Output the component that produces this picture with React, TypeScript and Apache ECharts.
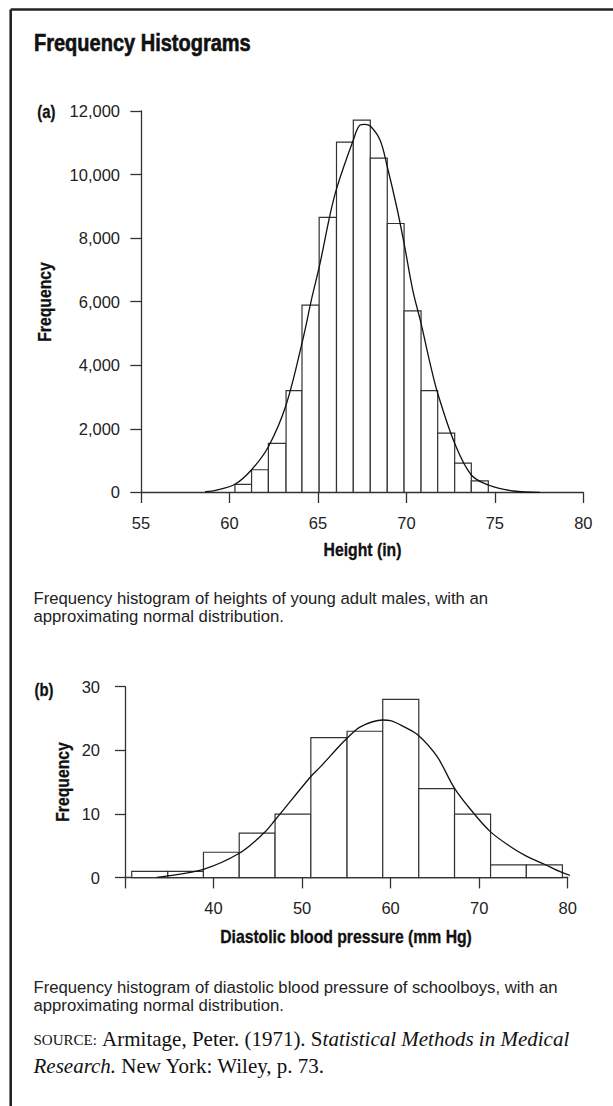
import React, { useEffect, useRef } from "react";
import * as echarts from "echarts";

// ---- Panel (a): heights of young adult males ----
const heightBinEdges = [60.31, 61.25, 62.2, 63.2, 64.1, 65.07, 66.05, 67.0, 67.96, 68.92, 69.87, 70.83, 71.77, 72.73, 73.67, 74.63];
const heightCounts = [250, 710, 1540, 3200, 5890, 8650, 11020, 11710, 10520, 8460, 5710, 3200, 1860, 920, 360];
const heightCurveX = [58.62, 59.28, 60.31, 61.25, 62.2, 63.2, 64.14, 64.65, 65.12, 65.68, 66.06, 67.0, 67.38, 67.66, 67.96, 68.51, 68.92, 69.45, 69.87, 70.36, 70.83, 71.34, 71.77, 72.73, 73.67, 74.63, 76.05, 77.55];
const heightCurveY = [20, 72, 252, 711, 1435, 2747, 4792, 6100, 7205, 8726, 9566, 11085, 11557, 11580, 11526, 11085, 10245, 8987, 7835, 6366, 5318, 4059, 3115, 1542, 544, 230, 41, 0];
const heightXTicks = [55, 60, 65, 70, 75, 80];
const heightYTicks = [0, 2000, 4000, 6000, 8000, 10000, 12000];

// ---- Panel (b): diastolic blood pressure of schoolboys ----
const bpBinEdges = [30.76, 34.83, 38.86, 42.9, 46.95, 50.99, 55.08, 59.11, 63.18, 67.22, 71.29, 75.33, 79.4];
const bpCounts = [1, 1, 4, 7, 10, 22, 23, 28, 14, 10, 2, 2];
const bpCurveX = [33.59, 34.83, 38.86, 42.9, 45.65, 46.95, 50.99, 52.06, 54.32, 55.08, 56.58, 59.11, 59.98, 61.48, 63.18, 65.26, 67.22, 69.4, 71.29, 73.55, 75.33, 77.32, 79.4, 81.1];
const bpCurveY = [0.06, 0.27, 1.31, 3.83, 6.97, 9.06, 15.9, 17.4, 20.84, 21.9, 23.7, 24.77, 24.66, 23.72, 22.3, 19.0, 14.04, 10.1, 7.2, 4.87, 3.4, 2.15, 0.79, 0];
const bpXTicks = [30, 40, 50, 60, 70, 80];
const bpYTicks = [0, 10, 20, 30];

const SANS = '"Liberation Sans", Arial, Helvetica, sans-serif';
const SERIF = '"Liberation Serif", "Times New Roman", serif';
const INK = "#222";

function binData(edges: number[], counts: number[]) {
  return counts.map((c, i) => [edges[i], edges[i + 1], c]);
}

function renderBar(params: any, api: any) {
  const lo = api.value(0);
  const hi = api.value(1);
  const v = api.value(2);
  const p0 = api.coord([lo, v]);
  const p1 = api.coord([hi, 0]);
  return {
    type: "rect",
    shape: { x: p0[0], y: p0[1], width: p1[0] - p0[0], height: p1[1] - p0[1] },
    style: { fill: "#fff", stroke: "#333", lineWidth: 1.2 },
  };
}

function txt(x: number, y: number, text: string, o: any = {}) {
  const align = o.align || "left";
  const va = o.va || "middle";
  return {
    type: "text",
    x,
    y,
    rotation: o.rotation || 0,
    scaleX: o.scaleX || 1,
    silent: true,
    style: {
      text,
      fill: o.fill || INK,
      stroke: o.stroke,
      lineWidth: o.lineWidth || 0,
      fontSize: o.fontSize || 16,
      fontWeight: o.fontWeight || "normal",
      fontStyle: o.fontStyle || "normal",
      fontFamily: o.fontFamily || SANS,
      align,
      textAlign: align,
      verticalAlign: va,
      textVerticalAlign: va,
      rich: o.rich,
    },
  };
}

const tickLabel = { color: INK, fontSize: 16.5, fontFamily: SANS };
const axisLineStyle = { color: "#333", width: 1.3 };
const serifRich = {
  sc: { fontFamily: SERIF, fontSize: 15, fill: "#111", padding: [2, 0, 0, 0] },
  r: { fontFamily: SERIF, fontSize: 21, fill: "#111" },
  i: { fontFamily: SERIF, fontSize: 21, fontStyle: "italic", fill: "#111" },
};

export default function App() {
  const ref = useRef<HTMLDivElement>(null);

  useEffect(() => {
    if (!ref.current) return;
    const chart = echarts.init(ref.current, undefined, { renderer: "svg" });

    const option: any = {
      animation: false,
      backgroundColor: "#fff",
      grid: [
        { left: 141, top: 111, width: 442.3, height: 381.3 },
        { left: 125, top: 686.7, width: 442.7, height: 191 },
      ],
      xAxis: [
        {
          type: "value",
          gridIndex: 0,
          min: heightXTicks[0],
          max: heightXTicks[heightXTicks.length - 1],
          interval: 5,
          axisLine: { show: true, onZero: false, lineStyle: axisLineStyle },
          axisTick: { show: true, length: 10.7, lineStyle: axisLineStyle },
          splitLine: { show: false },
          axisLabel: { ...tickLabel, margin: 22 },
        },
        {
          type: "value",
          gridIndex: 1,
          min: bpXTicks[0],
          max: bpXTicks[bpXTicks.length - 1],
          interval: 10,
          axisLine: { show: true, onZero: false, lineStyle: axisLineStyle },
          axisTick: { show: true, length: 10.7, lineStyle: axisLineStyle },
          splitLine: { show: false },
          axisLabel: {
            ...tickLabel,
            margin: 22,
            formatter: (v: number) => (v === bpXTicks[0] ? "" : String(v)),
          },
        },
      ],
      yAxis: [
        {
          type: "value",
          gridIndex: 0,
          min: heightYTicks[0],
          max: heightYTicks[heightYTicks.length - 1],
          interval: 2000,
          axisLine: { show: true, lineStyle: axisLineStyle },
          axisTick: { show: true, length: 10.7, lineStyle: axisLineStyle },
          splitLine: { show: false },
          axisLabel: {
            ...tickLabel,
            margin: 21,
            formatter: (v: number) => v.toLocaleString("en-US"),
          },
        },
        {
          type: "value",
          gridIndex: 1,
          min: bpYTicks[0],
          max: bpYTicks[bpYTicks.length - 1],
          interval: 10,
          axisLine: { show: true, lineStyle: axisLineStyle },
          axisTick: { show: true, length: 10, lineStyle: axisLineStyle },
          splitLine: { show: false },
          axisLabel: { ...tickLabel, margin: 25 },
        },
      ],
      series: [
        {
          type: "custom",
          xAxisIndex: 0,
          yAxisIndex: 0,
          renderItem: renderBar,
          encode: { x: [0, 1], y: 2 },
          data: binData(heightBinEdges, heightCounts),
          z: 2,
        },
        {
          type: "line",
          xAxisIndex: 0,
          yAxisIndex: 0,
          data: heightCurveX.map((x, i) => [x, heightCurveY[i]]),
          smooth: 0.35,
          showSymbol: false,
          symbol: "none",
          lineStyle: { color: "#111", width: 1.3 },
          clip: false,
          z: 3,
        },
        {
          type: "custom",
          xAxisIndex: 1,
          yAxisIndex: 1,
          renderItem: renderBar,
          encode: { x: [0, 1], y: 2 },
          data: binData(bpBinEdges, bpCounts),
          z: 2,
        },
        {
          type: "line",
          xAxisIndex: 1,
          yAxisIndex: 1,
          data: bpCurveX.map((x, i) => [x, bpCurveY[i]]),
          smooth: 0.35,
          showSymbol: false,
          symbol: "none",
          lineStyle: { color: "#111", width: 1.3 },
          clip: false,
          z: 3,
        },
      ],
      graphic: [
        // frame
        { type: "line", silent: true, shape: { x1: 10.7, y1: 9.5, x2: 613, y2: 9.5 }, style: { stroke: "#222", lineWidth: 2.6 } },
        { type: "line", silent: true, shape: { x1: 10.7, y1: 9.5, x2: 10.7, y2: 1106 }, style: { stroke: "#222", lineWidth: 2.6 } },
        // title
        txt(34, 42.5, "Frequency Histograms", { fontSize: 23, fontWeight: "bold", scaleX: 0.87, fill: "#111", stroke: "#111", lineWidth: 0.6 }),
        // panel (a)
        txt(37.3, 111.5, "(a)", { fontSize: 17.5, fontWeight: "bold", scaleX: 0.85, fill: "#111", stroke: "#111", lineWidth: 0.3 }),
        txt(45.3, 302, "Frequency", { fontSize: 17.5, fontWeight: "bold", scaleX: 0.9, rotation: Math.PI / 2, align: "center", fill: "#111", stroke: "#111", lineWidth: 0.3 }),
        txt(362.5, 550, "Height (in)", { fontSize: 17.5, fontWeight: "bold", scaleX: 0.9, align: "center", fill: "#111", stroke: "#111", lineWidth: 0.3 }),
        txt(33.5, 598, "Frequency histogram of heights of young adult males, with an", { fontSize: 16.7 }),
        txt(33.5, 616, "approximating normal distribution.", { fontSize: 16.7 }),
        // panel (b)
        txt(34.5, 690, "(b)", { fontSize: 17.5, fontWeight: "bold", scaleX: 0.85, fill: "#111", stroke: "#111", lineWidth: 0.3 }),
        txt(63, 782, "Frequency", { fontSize: 17.5, fontWeight: "bold", scaleX: 0.9, rotation: Math.PI / 2, align: "center", fill: "#111", stroke: "#111", lineWidth: 0.3 }),
        txt(346, 937.5, "Diastolic blood pressure (mm Hg)", { fontSize: 17.5, fontWeight: "bold", scaleX: 0.9, align: "center", fill: "#111", stroke: "#111", lineWidth: 0.3 }),
        txt(33.5, 987, "Frequency histogram of diastolic blood pressure of schoolboys, with an", { fontSize: 16.7 }),
        txt(33.5, 1005, "approximating normal distribution.", { fontSize: 16.7 }),
        // source
        txt(33.5, 1039, "{sc|SOURCE:} {r|Armitage, Peter. (1971). S}{i|tatistical Methods in Medical}", {
          fontFamily: SERIF,
          fontSize: 21,
          rich: serifRich,
        }),
        txt(33.5, 1066, "{i|Research.}{r| New York: Wiley, p. 73.}", {
          fontFamily: SERIF,
          fontSize: 21,
          rich: serifRich,
        }),
      ],
    };

    chart.setOption(option);
    return () => chart.dispose();
  }, []);

  return (
    <div
      ref={ref}
      style={{ position: "absolute", left: 0, top: 0, width: 613, height: 1106, background: "#fff" }}
    />
  );
}
